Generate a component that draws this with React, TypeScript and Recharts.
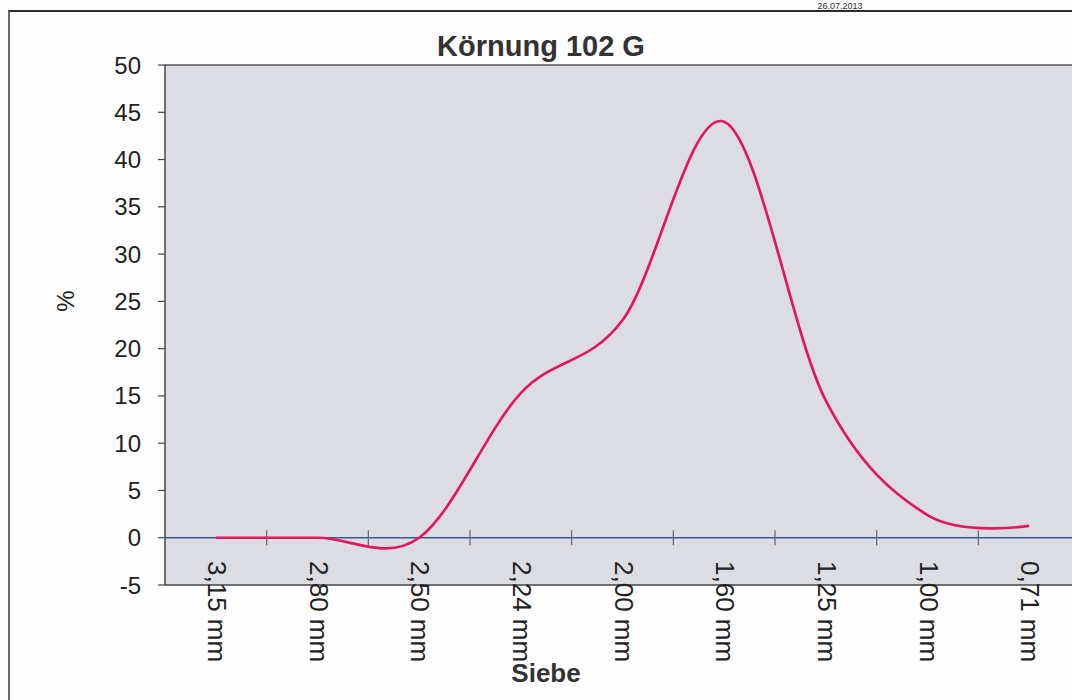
import React from "react";
import { LineChart, Line, XAxis, YAxis, CartesianGrid, ReferenceLine } from "recharts";

const sieves = ["3,15 mm", "2,80 mm", "2,50 mm", "2,24 mm", "2,00 mm", "1,60 mm", "1,25 mm", "1,00 mm", "0,71 mm"];
const percent = [0, 0, 0, 15.3, 23, 44, 14.5, 2.4, 1.25];
const yTicks = [-5, 0, 5, 10, 15, 20, 25, 30, 35, 40, 45, 50];

const chartTitle = "Körnung 102 G";
const dateText = "26.07.2013";
const xTitle = "Siebe";
const yTitle = "%";

const data = sieves.map((s, i) => ({ sieve: s, value: percent[i] }));

const FONT = "'Liberation Sans', Arial, Helvetica, sans-serif";

// Cardinal (Catmull-Rom like, tension 0) curve factory, like Excel's smoothed line
function smoothCurve(context: any) {
  const k = 1 / 6;
  let p = 0;
  let x0 = NaN, x1 = NaN, x2 = NaN, y0 = NaN, y1 = NaN, y2 = NaN;
  const seg = (x: number, y: number) => {
    context.bezierCurveTo(
      x1 + k * (x2 - x0),
      y1 + k * (y2 - y0),
      x2 + k * (x1 - x),
      y2 + k * (y1 - y),
      x2,
      y2
    );
  };
  return {
    areaStart() {},
    areaEnd() {},
    lineStart() {
      x0 = x1 = x2 = y0 = y1 = y2 = NaN;
      p = 0;
    },
    lineEnd() {
      if (p === 2) context.lineTo(x2, y2);
      else if (p === 3) seg(x1, y1);
    },
    point(x: number, y: number) {
      x = +x;
      y = +y;
      if (p === 0) {
        p = 1;
        context.moveTo(x, y);
      } else if (p === 1) {
        p = 2;
        x1 = x;
        y1 = y;
      } else {
        p = 3;
        seg(x, y);
      }
      x0 = x1; x1 = x2; x2 = x;
      y0 = y1; y1 = y2; y2 = y;
    },
  };
}

const XTick = (props: any) => {
  const { x, y, payload } = props;
  return (
    <text
      transform={`translate(${x},${y - 24}) rotate(90)`}
      textAnchor="start"
      dy={8}
      fill="#222"
      fontSize={26}
      fontFamily={FONT}
    >
      {payload.value}
    </text>
  );
};

export default function App() {
  return (
    <div
      style={{
        position: "fixed",
        left: 0,
        top: 0,
        width: 1072,
        height: 700,
        overflow: "hidden",
        background: "#fdfdfd",
      }}
    >
      <div
        style={{
          position: "absolute",
          left: 8,
          top: 10,
          width: 1200,
          height: 800,
          borderTop: "2px solid #2b2b2b",
          borderLeft: "2px solid #6a6a6a",
          boxSizing: "border-box",
        }}
      />
      <div style={{ position: "absolute", left: 0, top: 0 }}>
        <LineChart
          width={1110}
          height={700}
          data={data}
          margin={{ top: 65, right: 30, left: 0, bottom: 0 }}
        >
          <CartesianGrid horizontal={false} vertical={false} fill="#dcdde2" />
          <XAxis
            dataKey="sieve"
            type="category"
            scale="band"
            height={115}
            interval={0}
            tickLine={false}
            tickSize={0}
            tickMargin={0}
            axisLine={{ stroke: "#444", strokeWidth: 1.5 }}
            tick={<XTick />}
          />
          <YAxis
            type="number"
            domain={[-5, 50]}
            ticks={yTicks}
            interval={0}
            width={165}
            tickSize={7}
            tickMargin={17}
            axisLine={{ stroke: "#444", strokeWidth: 1.5 }}
            tickLine={{ stroke: "#444", strokeWidth: 1.2 }}
            tick={{ fill: "#222", fontSize: 24, fontFamily: FONT }}
          />
          <ReferenceLine y={50} stroke="#555" strokeWidth={1.5} />
          <ReferenceLine y={0} stroke="#3d5a96" strokeWidth={1.3} />
          {sieves.slice(1).map((s) => (
            <ReferenceLine
              key={s}
              position="start"
              segment={[
                { x: s, y: -0.8 },
                { x: s, y: 0.8 },
              ]}
              stroke="#666"
              strokeWidth={1.2}
            />
          ))}
          <Line
            dataKey="value"
            type={smoothCurve as any}
            stroke="#e3175b"
            strokeWidth={2.7}
            dot={false}
            activeDot={false}
            isAnimationActive={false}
          />
        </LineChart>
      </div>
      <svg
        width={1072}
        height={700}
        style={{ position: "absolute", left: 0, top: 0, pointerEvents: "none" }}
      >
        <text x={840} y={9} textAnchor="middle" fontSize={9} fill="#333" fontFamily={FONT}>
          {dateText}
        </text>
        <text x={541} y={56} textAnchor="middle" fontSize={29} fontWeight="bold" fill="#333" fontFamily={FONT}>
          {chartTitle}
        </text>
        <text x={546} y={682} textAnchor="middle" fontSize={26} fontWeight="bold" fill="#333" fontFamily={FONT}>
          {xTitle}
        </text>
        <text
          transform="translate(65,301) rotate(-90)"
          textAnchor="middle"
          dy={9}
          fontSize={24}
          fill="#222"
          fontFamily={FONT}
        >
          {yTitle}
        </text>
      </svg>
    </div>
  );
}
